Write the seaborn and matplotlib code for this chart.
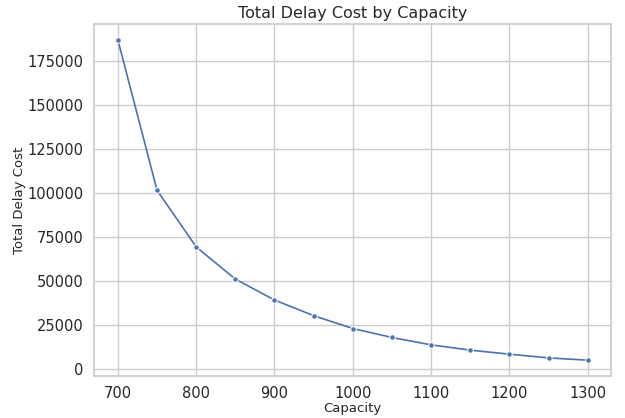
import matplotlib
matplotlib.use("Agg")
import matplotlib.pyplot as plt
import seaborn as sns
import pandas as pd

capacity = [700, 750, 800, 850, 900, 950, 1000, 1050, 1100, 1150, 1200, 1250, 1300]
total_delay_cost = [187300, 101800, 69600, 51300, 39400, 30500, 23200, 18100, 13900, 10900, 8600, 6500, 5200]

sns.set_theme(style="whitegrid")
df = pd.DataFrame({"Capacity": capacity, "Total Delay Cost": total_delay_cost})

fig, ax = plt.subplots(figsize=(6.25, 4.18), dpi=100)
sns.lineplot(data=df, x="Capacity", y="Total Delay Cost", marker="o", markersize=4, linewidth=1.2, ax=ax)
ax.set_title("Total Delay Cost by Capacity", fontsize=11.5, pad=4)
ax.set_xlabel("Capacity", fontsize=9.5, labelpad=1)
ax.set_ylabel("Total Delay Cost", fontsize=9.5, labelpad=1)
ax.tick_params(axis="x", labelsize=10.5, pad=1)
ax.tick_params(axis="y", labelsize=10.5, pad=2)
fig.subplots_adjust(left=0.151, right=0.978, top=0.943, bottom=0.1)
fig.savefig("out.png", dpi=100)
